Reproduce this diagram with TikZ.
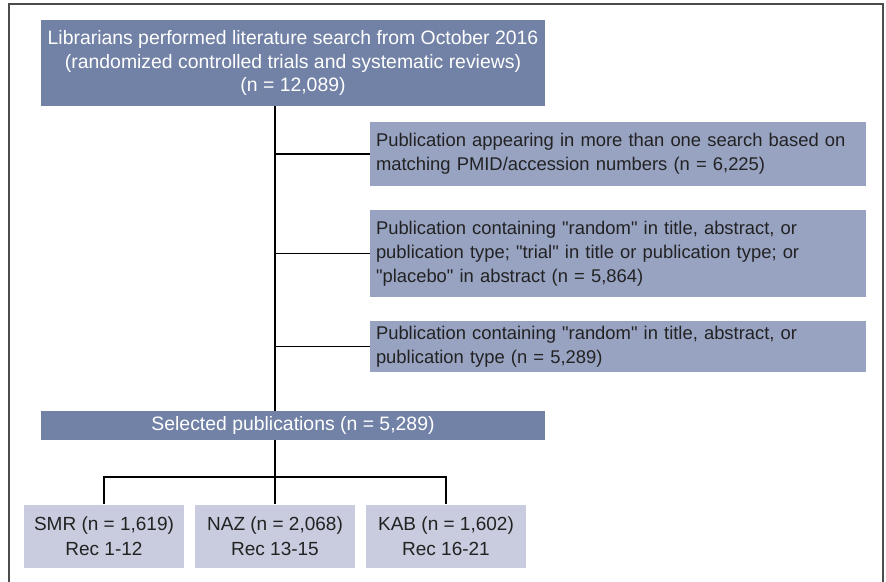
\documentclass[tikz,border=0pt]{standalone}
\usepackage{fontspec}
\setmainfont{Liberation Sans}
\usetikzlibrary{positioning}
\definecolor{headblue}{HTML}{7282A6}
\definecolor{sideblue}{HTML}{98A3C2}
\definecolor{leafblue}{HTML}{C8CCDE}
\definecolor{inkgray}{HTML}{222222}
\newcommand{\qt}[1]{\textquotedbl #1\textquotedbl}
\begin{document}
\begin{tikzpicture}[x=1pt, y=-1pt,
  head/.style={fill=headblue, text=white, minimum width=504pt, align=center, inner sep=0pt, font=\fontsize{19.4}{23.5}\selectfont},
  side/.style={fill=sideblue, text=inkgray, minimum width=496pt, text width=484pt, align=left, inner xsep=6pt, inner ysep=2pt, font=\fontsize{18.4}{24}\selectfont},
  leaf/.style={fill=leafblue, text=inkgray, minimum width=160pt, minimum height=63pt, align=center, inner sep=0pt, font=\fontsize{19}{24.5}\selectfont},
  link/.style={line width=1.4pt},
  frame/.style={draw=black!70, line width=1.8pt}
]
\useasboundingbox (0,0) rectangle (886,581);
\draw[frame] (9,585) -- (9,4) -- (883,4) -- (883,585);

\node[head, minimum height=86pt] (search) at (293,63) {Librarians performed literature search from October 2016\\(randomized controlled trials and systematic reviews)\\(n = 12,089)};

\node[side, minimum height=64pt] (dup) at (618,154) {Publication appearing in more than one search based on\\matching PMID/accession numbers (n = 6,225)};
\node[side, minimum height=87pt] (word) at (618,253.5) {Publication containing \qt{random} in title, abstract, or\\publication type; \qt{trial} in title or publication type; or\\\qt{placebo} in abstract (n = 5,864)};
\node[side, minimum height=51pt] (rand) at (618,346.5) {Publication containing \qt{random} in title, abstract, or\\publication type (n = 5,289)};

\node[head, minimum height=29pt] (sel) at (293,425.5) {Selected publications (n = 5,289)};

\node[leaf] (smr) at (104,536) {SMR (n = 1,619)\\Rec 1-12};
\node[leaf] (naz) at (275,536) {NAZ (n = 2,068)\\Rec 13-15};
\node[leaf] (kab) at (446,536) {KAB (n = 1,602)\\Rec 16-21};

\coordinate (fork) at (275,477);
\draw[link] (search.south -| naz) -- (sel.north -| naz);
\foreach \b in {dup, word, rand}
  \draw[link] (\b.west -| naz) -- (\b.west);
\draw[link] (sel.south -| naz) -- (naz.north);
\draw[link] (smr.north) -- (smr.north |- fork) -- (kab.north |- fork) -- (kab.north);
\end{tikzpicture}
\end{document}
